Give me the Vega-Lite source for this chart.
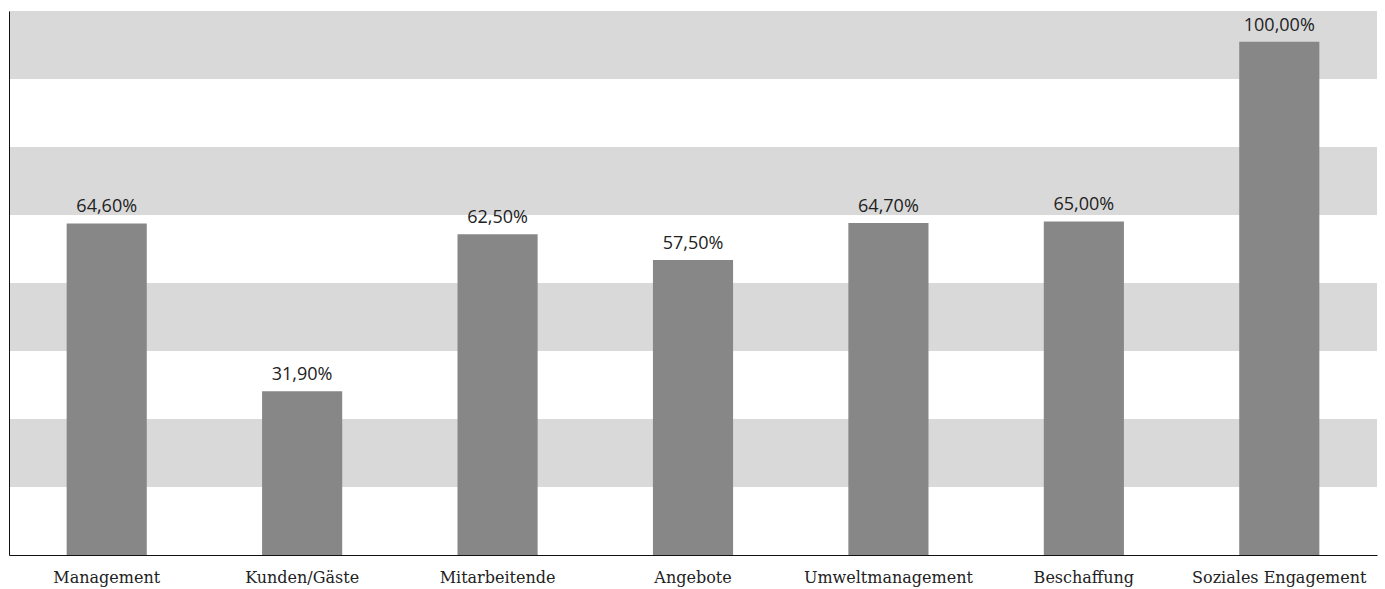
{
  "$schema": "https://vega.github.io/schema/vega-lite/v6.json",
  "autosize": {"type": "none"},
  "padding": {"left": 9, "top": 11, "right": 8, "bottom": 34},
  "width": 1368,
  "height": 544,
  "background": "white",
  "config": {
    "view": {"stroke": null},
    "locale": {
      "number": {"decimal": ",", "thousands": ".", "grouping": [3], "currency": ["", " €"]}
    }
  },
  "datasets": {
    "bereiche": [
      {"bereich": "Management", "anteil": 0.646},
      {"bereich": "Kunden/Gäste", "anteil": 0.319},
      {"bereich": "Mitarbeitende", "anteil": 0.625},
      {"bereich": "Angebote", "anteil": 0.575},
      {"bereich": "Umweltmanagement", "anteil": 0.647},
      {"bereich": "Beschaffung", "anteil": 0.65},
      {"bereich": "Soziales Engagement", "anteil": 1.0}
    ],
    "streifen": [
      {"von": 0.1325, "bis": 0.265},
      {"von": 0.3975, "bis": 0.53},
      {"von": 0.6625, "bis": 0.795},
      {"von": 0.9275, "bis": 1.06}
    ]
  },
  "layer": [
    {
      "data": {"name": "streifen"},
      "mark": {"type": "rect", "color": "#d9d9d9", "x": 0, "x2": {"expr": "width"}},
      "encoding": {
        "y": {
          "field": "von",
          "type": "quantitative",
          "scale": {"domain": [0, 1.06], "nice": false, "zero": true},
          "axis": {
            "title": null,
            "labels": false,
            "ticks": false,
            "grid": false,
            "domain": true,
            "domainColor": "#111111",
            "domainWidth": 1,
            "zindex": 1
          }
        },
        "y2": {"field": "bis"}
      }
    },
    {
      "data": {"name": "bereiche"},
      "encoding": {
        "x": {
          "field": "bereich",
          "type": "nominal",
          "sort": null,
          "scale": {"paddingInner": 0.59, "paddingOuter": 0.295},
          "axis": {
            "title": null,
            "labelAngle": 0,
            "ticks": false,
            "domain": true,
            "domainColor": "#111111",
            "domainWidth": 1,
            "labelPadding": 14,
            "labelFont": "DejaVu Serif",
            "labelFontSize": 16,
            "labelColor": "#222222",
            "zindex": 1
          }
        },
        "y": {
          "field": "anteil",
          "type": "quantitative",
          "scale": {"domain": [0, 1.06], "nice": false},
          "axis": {
            "title": null,
            "labels": false,
            "ticks": false,
            "grid": false,
            "domain": true,
            "domainColor": "#111111",
            "domainWidth": 1,
            "zindex": 1
          }
        }
      },
      "layer": [
        {"mark": {"type": "bar", "color": "#878787"}},
        {
          "mark": {"type": "text", "baseline": "alphabetic", "dy": -11, "font": "Open Sans", "fontSize": 18, "color": "#222222"},
          "encoding": {"text": {"field": "anteil", "type": "quantitative", "format": ".2%"}}
        }
      ]
    }
  ]
}
